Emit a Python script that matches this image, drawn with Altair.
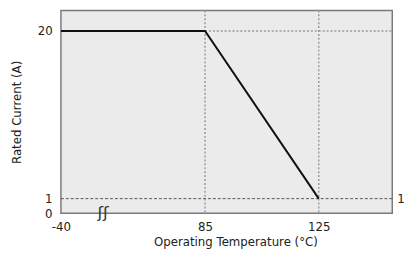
import altair as alt
import pandas as pd

# Derating curve
temps = [-40, 85, 125]
currents = [20, 20, 1]

# Reference guide lines
vline_temps = [85, 125]
knee_temp = [85]
knee_current = [20]
floor_current = [1]

x_ticks = [-40, 85, 125]
y_ticks = [0, 1, 20]

W, H = 338, 207
FONT = "DejaVu Sans"

xs = alt.Scale(domain=[-40, 85, 125, 151], range=[0, 147, 263, W])
ys = alt.Scale(domain=[0, 1, 20, 22.33], range=[H, 192, 21, 0])

curve_df = pd.DataFrame({"t": temps, "i": currents})
vl_df = pd.DataFrame({"t": vline_temps})
knee_df = pd.DataFrame({"t": knee_temp, "i": knee_current})
floor_df = pd.DataFrame({"i": floor_current})

xaxis = alt.Axis(values=x_ticks, title="Operating Temperature (°C)", grid=False,
                 domain=False, ticks=False, labelPadding=8, labelFontSize=12,
                 labelFont=FONT, labelColor="#222", titleFont=FONT, titleFontSize=12,
                 titleFontWeight="normal", titleColor="#222", titlePadding=5, titleX=178,
                 labelFlush=False,
                 labelExpr="datum.value < 0 ? '-' + abs(datum.value) : datum.label")
yaxis = alt.Axis(values=y_ticks, title="Rated Current (A)", grid=False,
                 domain=False, ticks=False, labelPadding=9, labelFontSize=12,
                 labelFont=FONT, labelColor="#222", titleFont=FONT, titleFontSize=12,
                 titleFontWeight="normal", titleColor="#222", titlePadding=14,
                 labelFlush=False)

base_x = alt.X("t:Q", scale=xs, axis=xaxis)
base_y = alt.Y("i:Q", scale=ys, axis=yaxis)

vlines = alt.Chart(vl_df).mark_rule(color="#9a9a9a", strokeDash=[2, 2], strokeWidth=1.5).encode(
    x=alt.X("t:Q", scale=xs, axis=xaxis), y=alt.value(0), y2=alt.value(H))

knee_line = alt.Chart(knee_df).mark_rule(color="#9a9a9a", strokeDash=[2, 2], strokeWidth=1.5).encode(
    x=alt.X("t:Q", scale=xs, axis=xaxis), x2=alt.value(W), y=alt.Y("i:Q", scale=ys, axis=yaxis))

floor_line = alt.Chart(floor_df).mark_rule(color="#555555", strokeDash=[3, 2], strokeWidth=1).encode(
    x=alt.value(0), x2=alt.value(W), y=alt.Y("i:Q", scale=ys, axis=yaxis))

floor_label = alt.Chart(floor_df).mark_text(align="left", baseline="middle", fontSize=12,
                                            font=FONT, color="#222").encode(
    x=alt.value(W + 5), y=alt.Y("i:Q", scale=ys, axis=yaxis), text=alt.Text("i:Q"))

curve = alt.Chart(curve_df).mark_line(color="#111111", strokeWidth=2).encode(
    x=base_x, y=base_y)

brk = alt.Chart(floor_df).mark_text(text="ʃʃ", fontSize=17, font=FONT, color="#333",
                                    baseline="middle", align="center").encode(
    x=alt.value(43), y=alt.value(H))

chart = alt.layer(vlines, knee_line, floor_line, curve, floor_label, brk).properties(
    width=W, height=H,
    background="white",
    autosize=alt.AutoSizeParams(type="none"),
    padding={"left": 54, "top": 0, "right": 14, "bottom": 39},
).configure_view(
    fill="#ebebeb", stroke="#7a7a7a", strokeWidth=1.5
)

chart.save("out.html", embed_options={"renderer": "svg", "actions": False})
